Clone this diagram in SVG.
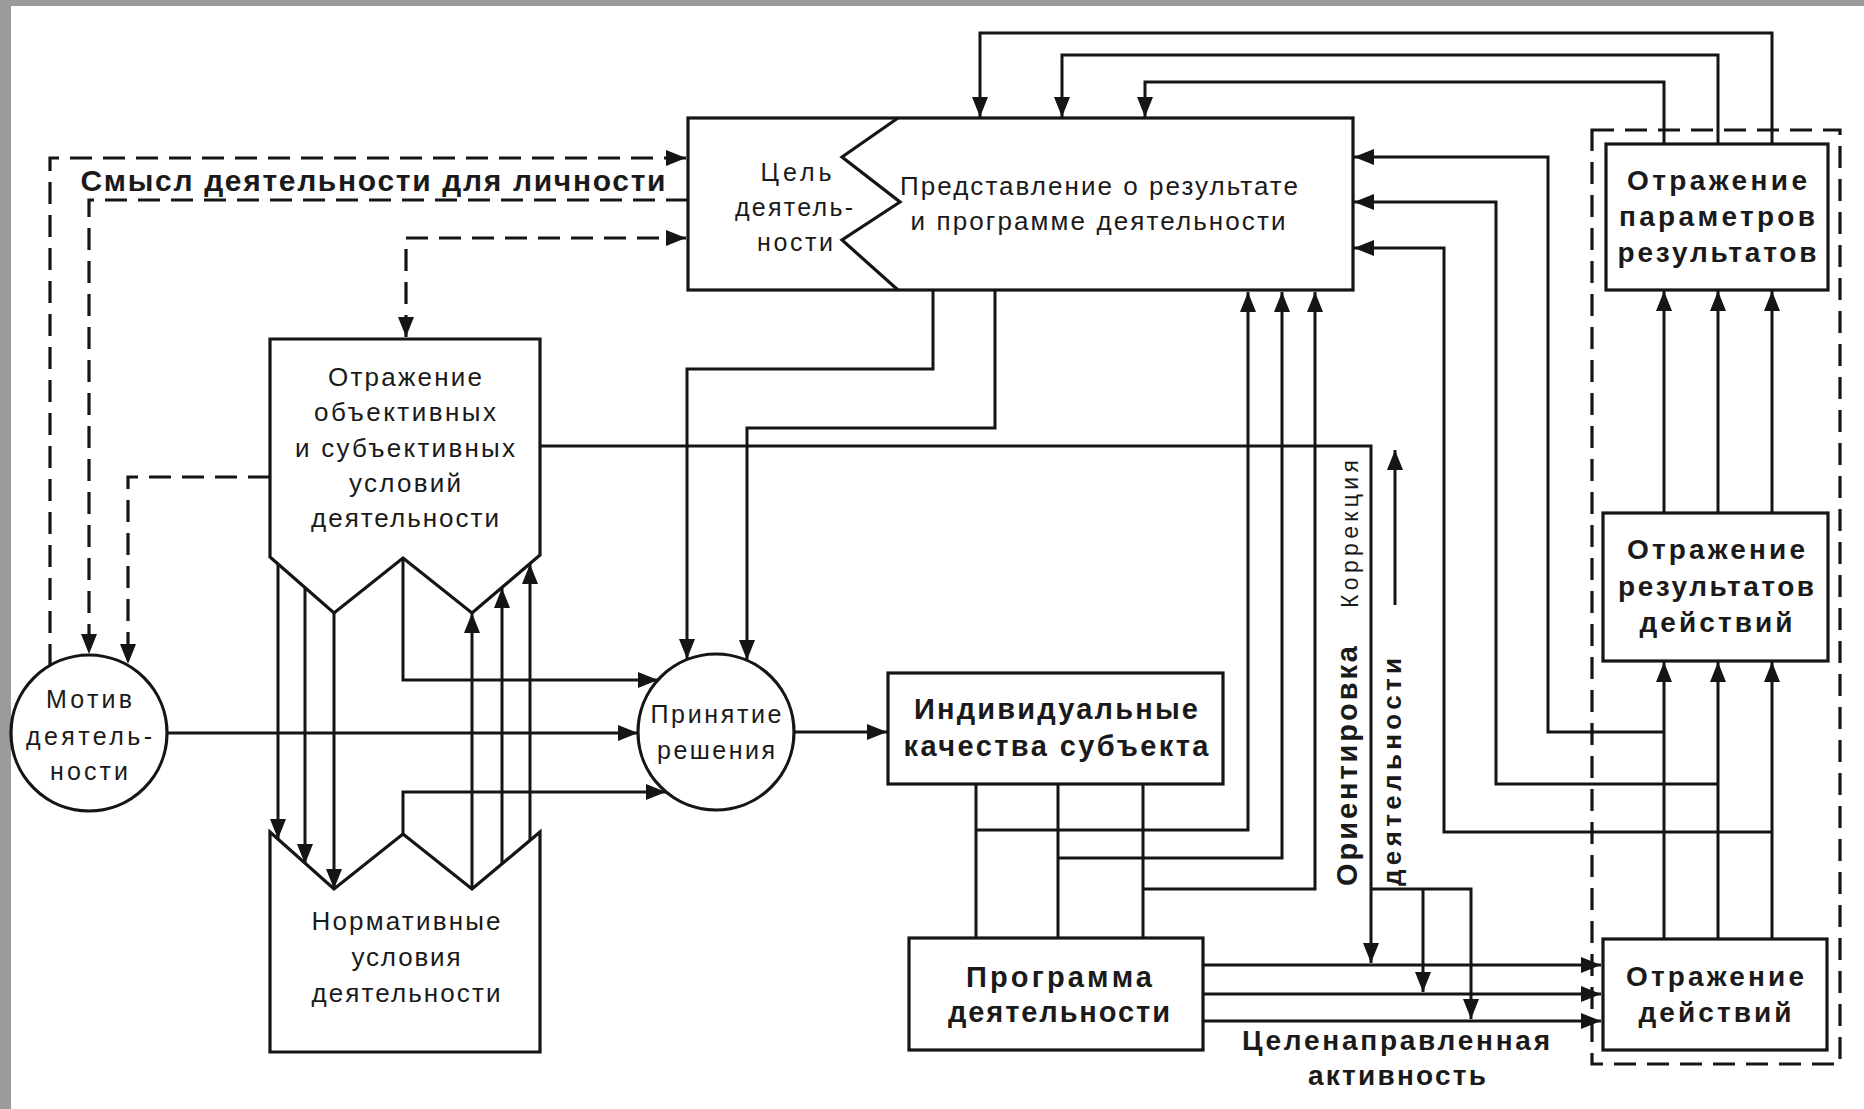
<svg xmlns="http://www.w3.org/2000/svg" width="1864" height="1109" viewBox="0 0 1864 1109">
<style>
.bx{fill:#fff;stroke:#151515;stroke-width:3.2;stroke-linejoin:miter}
.ln{fill:none;stroke:#151515;stroke-width:3}
.ds{fill:none;stroke:#151515;stroke-width:3.2;stroke-dasharray:22 11}
.t{font-family:"Liberation Sans",Arial,sans-serif;fill:#1a1a1a;text-anchor:middle;font-size:25px}
.m{font-size:26px}
.b{font-weight:bold;font-size:28px}
.b27{font-weight:bold;font-size:29px}
</style>
<defs>
<marker id="a" markerUnits="userSpaceOnUse" markerWidth="20" markerHeight="16" refX="20" refY="8" orient="auto-start-reverse"><path d="M0,0 L20,8 L0,16 z" fill="#151515"/></marker>
</defs>
<rect x="0" y="0" width="1864" height="1109" fill="#fff"/>
<rect x="0" y="0" width="1864" height="6" fill="#9b9b9b"/>
<rect x="0" y="0" width="11" height="1109" fill="#9b9b9b"/>

<g id="connectors">
  <path class="ds" d="M50,666 V158 H686" marker-end="url(#a)"/>
  <path class="ds" d="M688,200 H89 V654" marker-end="url(#a)"/>
  <path class="ds" d="M270,477 H128 V664" marker-end="url(#a)"/>
  <path class="ds" d="M406,337 V238 H686" marker-start="url(#a)" marker-end="url(#a)"/>
  <path class="ln" d="M167,733 H638" marker-end="url(#a)"/>
  <path class="ln" d="M794,732 H887" marker-end="url(#a)"/>
  <path class="ln" d="M403,558 V680 H658" marker-end="url(#a)"/>
  <path class="ln" d="M403,834 V792 H666" marker-end="url(#a)"/>
  <path class="ln" d="M933,290 V369 H687 V659" marker-end="url(#a)"/>
  <path class="ln" d="M995,290 V428 H747 V660" marker-end="url(#a)"/>
  <path class="ln" d="M278,564 V839" marker-end="url(#a)"/>
  <path class="ln" d="M305,588 V864" marker-end="url(#a)"/>
  <path class="ln" d="M334,613 V889" marker-end="url(#a)"/>
  <path class="ln" d="M472,889 V613" marker-end="url(#a)"/>
  <path class="ln" d="M502,864 V588" marker-end="url(#a)"/>
  <path class="ln" d="M530,840 V564" marker-end="url(#a)"/>
  <path class="ln" d="M540,446 H1371 V963" marker-end="url(#a)"/>
  <path class="ln" d="M1371,889 H1471 V1019" marker-end="url(#a)"/>
  <path class="ln" d="M1423,889 V992" marker-end="url(#a)"/>
  <path class="ln" d="M1395,605 V450" marker-end="url(#a)"/>
  <path class="ln" d="M1203,965 H1601" marker-end="url(#a)"/>
  <path class="ln" d="M1203,994 H1601" marker-end="url(#a)"/>
  <path class="ln" d="M1203,1021 H1601" marker-end="url(#a)"/>
  <path class="ln" d="M976,784 V938 M1058,784 V938 M1143,784 V938"/>
  <path class="ln" d="M976,830 H1248 V292" marker-end="url(#a)"/>
  <path class="ln" d="M1058,858 H1282 V292" marker-end="url(#a)"/>
  <path class="ln" d="M1143,889 H1315 V292" marker-end="url(#a)"/>
  <path class="ln" d="M1664,939 V662" marker-end="url(#a)"/>
  <path class="ln" d="M1718,939 V662" marker-end="url(#a)"/>
  <path class="ln" d="M1772,939 V662" marker-end="url(#a)"/>
  <path class="ln" d="M1664,513 V291" marker-end="url(#a)"/>
  <path class="ln" d="M1718,513 V291" marker-end="url(#a)"/>
  <path class="ln" d="M1772,513 V291" marker-end="url(#a)"/>
  <path class="ln" d="M1664,144 V82 H1145 V117" marker-end="url(#a)"/>
  <path class="ln" d="M1718,144 V55 H1062 V117" marker-end="url(#a)"/>
  <path class="ln" d="M1772,144 V33 H980 V117" marker-end="url(#a)"/>
  <path class="ln" d="M1664,732 H1548 V157 H1354" marker-end="url(#a)"/>
  <path class="ln" d="M1718,784 H1496 V202 H1354" marker-end="url(#a)"/>
  <path class="ln" d="M1772,832 H1444 V248 H1354" marker-end="url(#a)"/>
</g>

<g id="frame">
  <rect class="ds" x="1592" y="130" width="248" height="934"/>
</g>

<g id="goal">
  <rect class="bx" x="688" y="118" width="665" height="172"/>
  <polyline class="ln" points="898,118 842,157 900,202 842,240 898,290" style="stroke-width:3.2"/>
  <text class="t" x="796" y="181" textLength="71" lengthAdjust="spacing">Цель</text>
  <text class="t" x="794" y="216" textLength="118" lengthAdjust="spacing">деятель-</text>
  <text class="t" x="795" y="251" textLength="76" lengthAdjust="spacing">ности</text>
  <text class="t m" x="1099" y="195" textLength="398" lengthAdjust="spacing">Представление о результате</text>
  <text class="t m" x="1098" y="230" textLength="375" lengthAdjust="spacing">и программе деятельности</text>
</g>

<g id="conditions">
  <polygon class="bx" points="270,339 540,339 540,555 472,613 403,558 334,613 270,557"/>
  <text class="t m" x="405" y="386" textLength="154" lengthAdjust="spacing">Отражение</text>
  <text class="t m" x="405" y="421" textLength="182" lengthAdjust="spacing">объективных</text>
  <text class="t m" x="405" y="457" textLength="220" lengthAdjust="spacing">и субъективных</text>
  <text class="t m" x="405" y="492" textLength="112" lengthAdjust="spacing">условий</text>
  <text class="t m" x="405" y="527" textLength="188" lengthAdjust="spacing">деятельности</text>
</g>

<g id="normative">
  <polygon class="bx" points="270,832 334,889 403,834 472,889 540,832 540,1052 270,1052"/>
  <text class="t m" x="406" y="930" textLength="189" lengthAdjust="spacing">Нормативные</text>
  <text class="t m" x="406" y="966" textLength="109" lengthAdjust="spacing">условия</text>
  <text class="t m" x="406" y="1002" textLength="189" lengthAdjust="spacing">деятельности</text>
</g>

<g id="motive">
  <circle class="bx" cx="89" cy="733" r="78"/>
  <text class="t" x="89" y="708" textLength="86" lengthAdjust="spacing">Мотив</text>
  <text class="t" x="89" y="745" textLength="126" lengthAdjust="spacing">деятель-</text>
  <text class="t" x="89" y="780" textLength="78" lengthAdjust="spacing">ности</text>
</g>

<g id="decision">
  <circle class="bx" cx="716" cy="732" r="78"/>
  <text class="t" x="716" y="723" textLength="131" lengthAdjust="spacing">Принятие</text>
  <text class="t" x="716" y="759" textLength="118" lengthAdjust="spacing">решения</text>
</g>

<g id="individual">
  <rect class="bx" x="888" y="673" width="335" height="111"/>
  <text class="t b27" x="1056" y="719" textLength="284" lengthAdjust="spacing">Индивидуальные</text>
  <text class="t b27" x="1056" y="756" textLength="305" lengthAdjust="spacing">качества субъекта</text>
</g>

<g id="program">
  <rect class="bx" x="909" y="938" width="294" height="112"/>
  <text class="t b27" x="1059" y="987" textLength="186" lengthAdjust="spacing">Программа</text>
  <text class="t b27" x="1059" y="1022" textLength="222" lengthAdjust="spacing">деятельности</text>
</g>

<g id="params">
  <rect class="bx" x="1606" y="144" width="222" height="146"/>
  <text class="t b" x="1717" y="190" textLength="180" lengthAdjust="spacing">Отражение</text>
  <text class="t b" x="1717" y="226" textLength="196" lengthAdjust="spacing">параметров</text>
  <text class="t b" x="1717" y="262" textLength="199" lengthAdjust="spacing">результатов</text>
</g>

<g id="results">
  <rect class="bx" x="1603" y="513" width="225" height="148"/>
  <text class="t b" x="1716" y="559" textLength="178" lengthAdjust="spacing">Отражение</text>
  <text class="t b" x="1716" y="596" textLength="196" lengthAdjust="spacing">результатов</text>
  <text class="t b" x="1716" y="632" textLength="153" lengthAdjust="spacing">действий</text>
</g>

<g id="actions">
  <rect class="bx" x="1603" y="939" width="224" height="111"/>
  <text class="t b" x="1715" y="986" textLength="178" lengthAdjust="spacing">Отражение</text>
  <text class="t b" x="1715" y="1022" textLength="153" lengthAdjust="spacing">действий</text>
</g>

<g id="labels">
  <text class="t b" x="373" y="191" textLength="585" lengthAdjust="spacing" style="font-size:30px">Смысл деятельности для личности</text>
  <text class="t b" x="1396" y="1050" textLength="308" lengthAdjust="spacing">Целенаправленная</text>
  <text class="t b" x="1397" y="1085" textLength="178" lengthAdjust="spacing">активность</text>
  <text class="t" transform="translate(1350,534) rotate(-90)" dy="0.35em" textLength="148" lengthAdjust="spacing" style="font-size:23px">Коррекция</text>
  <text class="t b27" transform="translate(1347,766) rotate(-90)" dy="0.35em" textLength="240" lengthAdjust="spacing">Ориентировка</text>
  <text class="t b" transform="translate(1392,772) rotate(-90)" dy="0.35em" textLength="228" lengthAdjust="spacing" style="font-size:26px">деятельности</text>
</g>
</svg>
